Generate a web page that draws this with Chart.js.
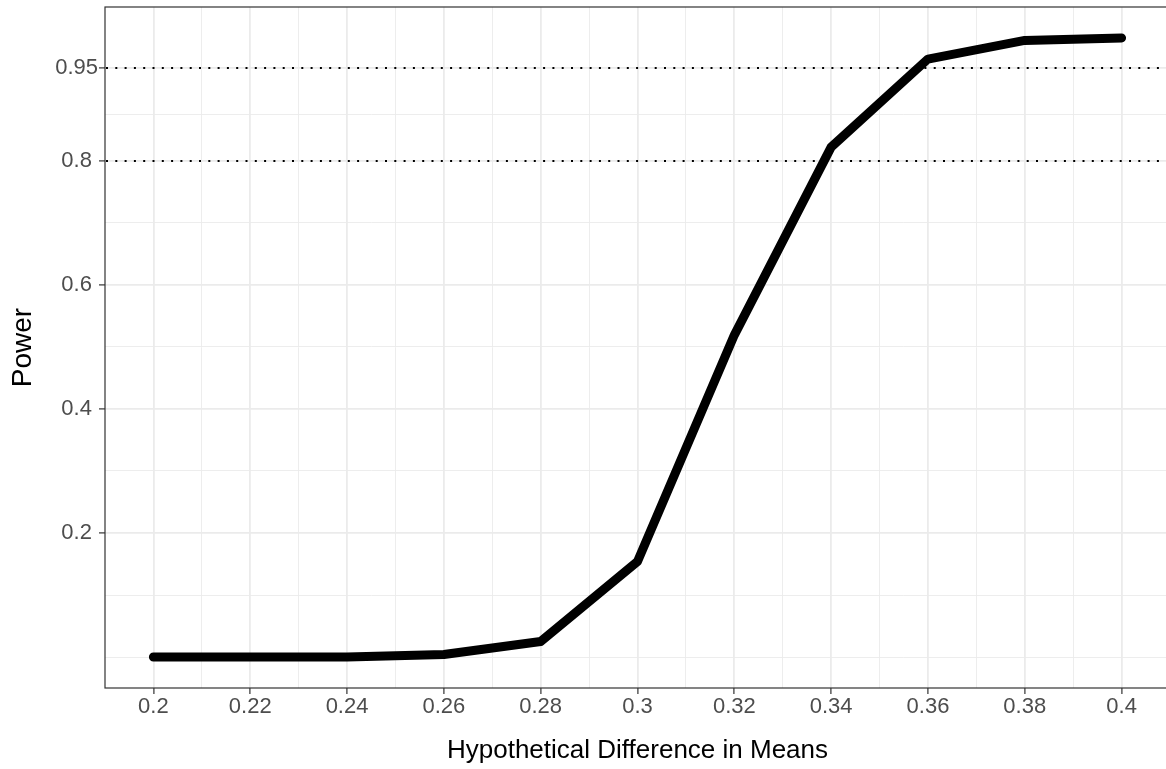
<!DOCTYPE html>
<html>
<head>
<meta charset="utf-8">
<script src="https://cdn.jsdelivr.net/npm/chart.js@4/dist/chart.umd.min.js"></script>
<style>
  html, body { margin: 0; padding: 0; background: #ffffff; overflow: hidden; width: 1166px; height: 769px; }
  #wrap { width: 1166px; height: 769px; overflow: hidden; position: relative; }
  #c { position: absolute; left: 0; top: 0; }
</style>
</head>
<body>
<div id="wrap"><canvas id="c" width="1170" height="769"></canvas></div>
<script>
// ---- data ----
const differences = [0.2, 0.22, 0.24, 0.26, 0.28, 0.3, 0.32, 0.34, 0.36, 0.38, 0.4];
const power       = [0.0, 0.0, 0.0, 0.004, 0.025, 0.154, 0.519, 0.822, 0.964, 0.994, 0.998];

// ---- ticks ----
const xTicks = [0.2, 0.22, 0.24, 0.26, 0.28, 0.3, 0.32, 0.34, 0.36, 0.38, 0.4];
const xTickLabels = ['0.2', '0.22', '0.24', '0.26', '0.28', '0.3', '0.32', '0.34', '0.36', '0.38', '0.4'];
const xMinorTicks = [0.21, 0.23, 0.25, 0.27, 0.29, 0.31, 0.33, 0.35, 0.37, 0.39];
const yTicks = [0.2, 0.4, 0.6, 0.8, 0.95];
const yTickLabels = ['0.2', '0.4', '0.6', '0.8', '0.95'];
const yMinorTicks = [0, 0.1, 0.3, 0.5, 0.7, 0.875];

// reference lines (dotted)
const referenceLevels = [0.8, 0.95];

const xLabel = 'Hypothetical Difference in Means';
const yLabel = 'Power';

// axis limits with ggplot-like 5% expansion
const xLo = Math.min(...differences), xHi = Math.max(...differences);
const yLo = Math.min(...power), yHi = Math.max(...power);
const xPad = (xHi - xLo) * 0.05, yPad = (yHi - yLo) * 0.05;

const FONT = '"Liberation Sans", Arial, Helvetica, sans-serif';
const GRID = '#EBEBEB';
const DARK = '#333333';

function buildTicks(majors, minors) {
  return function (scale) {
    const all = majors.concat(minors).slice().sort((a, b) => a - b);
    scale.ticks = all.map(v => ({ value: v }));
  };
}
function labelFor(majors, labels) {
  return function (value) {
    const i = majors.findIndex(m => Math.abs(m - value) < 1e-9);
    return i >= 0 ? labels[i] : '';
  };
}
function isMajor(majors, v) { return majors.some(m => Math.abs(m - v) < 1e-9); }

const refLinesPlugin = {
  id: 'refLines',
  beforeDatasetsDraw(chart) {
    const { ctx, chartArea, scales } = chart;
    ctx.save();
    ctx.strokeStyle = '#000000';
    ctx.lineWidth = 2;
    ctx.setLineDash([2, 7.3]);
    referenceLevels.forEach(level => {
      const y = Math.round(scales.y.getPixelForValue(level));
      ctx.beginPath();
      ctx.moveTo(chartArea.left + 1, y);
      ctx.lineTo(chartArea.right, y);
      ctx.stroke();
    });
    ctx.restore();
  }
};

const borderPlugin = {
  id: 'panelBorder',
  afterDraw(chart) {
    const { ctx, chartArea } = chart;
    ctx.save();
    ctx.strokeStyle = DARK;
    ctx.lineWidth = 1.2;
    ctx.strokeRect(chartArea.left, chartArea.top, chartArea.right - chartArea.left, chartArea.bottom - chartArea.top);
    ctx.restore();
  }
};

new Chart(document.getElementById('c'), {
  type: 'line',
  data: {
    datasets: [{
      data: differences.map((d, i) => ({ x: d, y: power[i] })),
      borderColor: '#000000',
      borderWidth: 9,
      borderCapStyle: 'round',
      borderJoinStyle: 'round',
      pointRadius: 0,
      tension: 0,
      fill: false
    }]
  },
  options: {
    responsive: false,
    animation: false,
    devicePixelRatio: 1,
    layout: { padding: { top: 7, left: 0, right: 0, bottom: 0 } },
    plugins: { legend: { display: false }, tooltip: { enabled: false } },
    scales: {
      x: {
        type: 'linear',
        min: xLo - xPad,
        max: xHi + xPad,
        afterBuildTicks: buildTicks(xTicks, xMinorTicks),
        afterFit(scale) { scale.height = 81; scale.paddingLeft = 0; scale.paddingRight = 0; },
        border: { display: false },
        grid: {
          color: GRID,
          lineWidth: ctx => isMajor(xTicks, ctx.tick.value) ? 1.8 : 0.9,
          tickColor: ctx => isMajor(xTicks, ctx.tick.value) ? DARK : 'rgba(0,0,0,0)',
          tickLength: 6,
          tickWidth: 1.2
        },
        ticks: {
          autoSkip: false,
          maxRotation: 0,
          minRotation: 0,
          padding: 0,
          color: '#4D4D4D',
          font: { family: FONT, size: 22 },
          callback: labelFor(xTicks, xTickLabels)
        },
        title: {
          display: true,
          text: xLabel,
          color: '#000000',
          font: { family: FONT, size: 26 },
          padding: { top: 0, bottom: 3 }
        }
      },
      y: {
        type: 'linear',
        min: yLo - yPad,
        max: yHi + yPad,
        afterBuildTicks: buildTicks(yTicks, yMinorTicks),
        afterFit(scale) { scale.width = 105; scale.paddingTop = 0; scale.paddingBottom = 0; },
        border: { display: false },
        grid: {
          color: GRID,
          lineWidth: ctx => isMajor(yTicks, ctx.tick.value) ? 1.8 : 0.9,
          tickColor: ctx => isMajor(yTicks, ctx.tick.value) ? DARK : 'rgba(0,0,0,0)',
          tickLength: 6,
          tickWidth: 1.2
        },
        ticks: {
          autoSkip: false,
          crossAlign: 'center',
          padding: 1,
          color: '#4D4D4D',
          font: { family: FONT, size: 22 },
          callback: labelFor(yTicks, yTickLabels)
        },
        title: {
          display: true,
          text: yLabel,
          color: '#000000',
          font: { family: FONT, size: 28 },
          padding: { top: 6, bottom: 0 }
        }
      }
    }
  },
  plugins: [refLinesPlugin, borderPlugin]
});
</script>
</body>
</html>
